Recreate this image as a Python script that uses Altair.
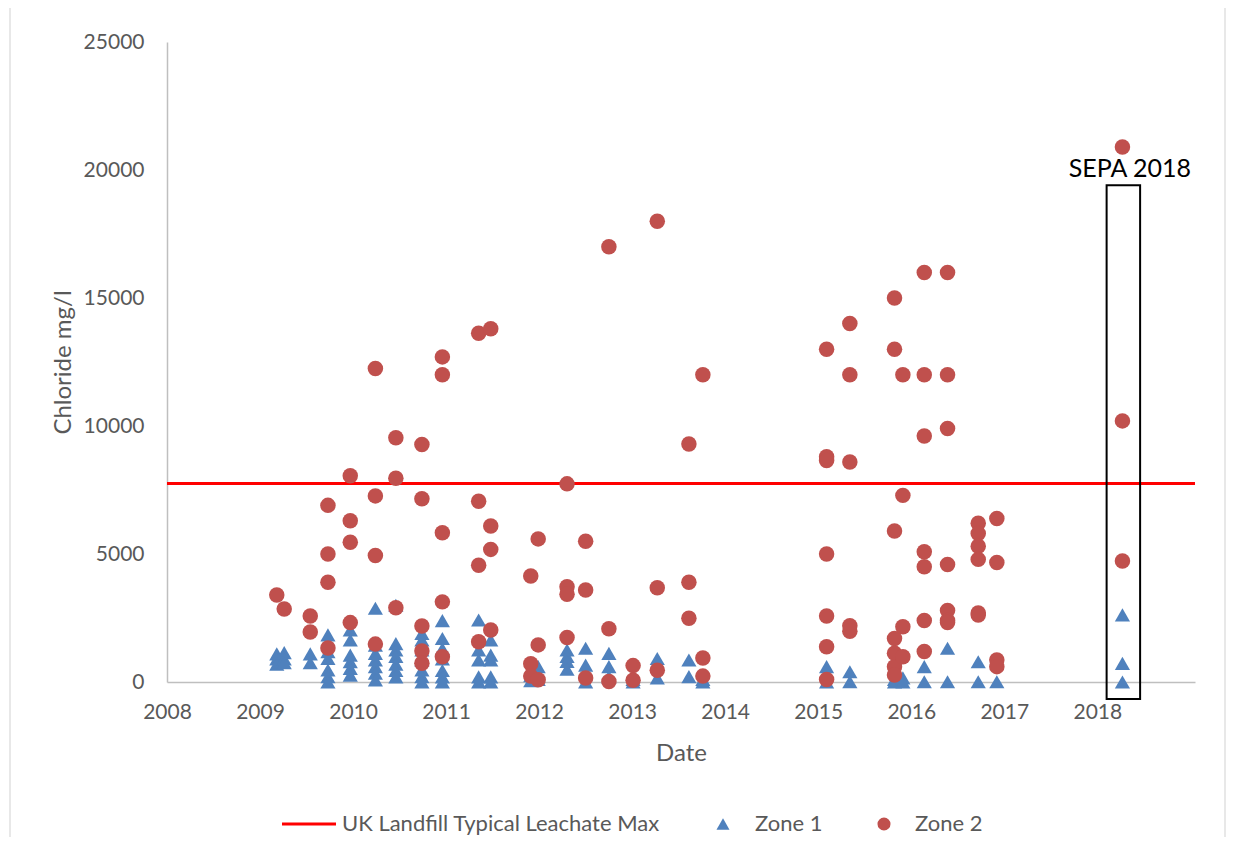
import altair as alt
import pandas as pd

# ---------------- data ----------------
series_names = ["UK Landfill Typical Leachate Max", "Zone 1", "Zone 2"]
leachate_max = [7750]

zone1_dates = (
    [2009.18] * 3 + [2009.26] * 3 + [2009.54] * 2 + [2009.73] * 6 + [2009.97] * 6 +
    [2010.24] * 7 + [2010.46] * 7 + [2010.74] * 7 + [2010.96] * 7 + [2011.35] * 5 +
    [2011.48] * 5 + [2011.91] * 2 + [2011.99] * 2 + [2012.30] * 4 + [2012.50] * 3 +
    [2012.75] * 3 + [2013.01] * 2 + [2013.27] * 2 + [2013.61] * 2 + [2013.76] * 2 +
    [2015.09] * 2 + [2015.34] * 2 + [2015.82] * 2 + [2015.91] * 2 + [2016.14] * 2 +
    [2016.39] * 2 + [2016.72] * 2 + [2016.92] * 1 + [2018.27] * 3
)
zone1_values = [
    1100, 900, 700,
    1150, 900, 750,
    1100, 750,
    1840, 1180, 920, 470, 210, 0,
    2030, 1640, 1050, 790, 530, 270,
    2880, 1440, 1120, 860, 600, 340, 80,
    3000, 1500, 1250, 1000, 700, 450, 200,
    1900, 1640, 1250, 860, 470, 210, 0,
    2400, 1700, 1300, 900, 450, 200, 0,
    2420, 1250, 860, 200, 0,
    1640, 1050, 860, 200, 0,
    250, 50,
    600, 100,
    1250, 1000, 800, 500,
    1320, 660, 0,
    1120, 600, 200,
    100, 0,
    920, 160,
    860, 210,
    100, 0,
    600, 0,
    400, 10,
    100, 0,
    160, 0,
    600, 10,
    1320, 10,
    790, 10,
    10,
    2620, 730, 0,
]

zone2_dates = (
    [2009.18] * 1 + [2009.26] * 1 + [2009.54] * 2 + [2009.73] * 4 + [2009.97] * 4 +
    [2010.24] * 4 + [2010.46] * 3 + [2010.74] * 5 + [2010.96] * 5 + [2011.35] * 4 +
    [2011.48] * 4 + [2011.91] * 3 + [2011.99] * 3 + [2012.30] * 4 + [2012.50] * 3 +
    [2012.75] * 3 + [2013.01] * 2 + [2013.27] * 3 + [2013.61] * 3 + [2013.76] * 3 +
    [2015.09] * 7 + [2015.34] * 5 + [2015.82] * 7 + [2015.91] * 4 + [2016.14] * 7 +
    [2016.39] * 7 + [2016.72] * 6 + [2016.92] * 4 + [2018.27] * 3
)
zone2_values = [
    3400,
    2850,
    2580, 1950,
    6900, 5000, 3900, 1330,
    8060, 6300, 5460, 2320,
    12250, 7270, 4940, 1480,
    9540, 7960, 2900,
    9280, 7160, 2190, 1210, 730,
    12700, 12000, 5830, 3130, 990,
    13620, 7060, 4560, 1575,
    13800, 6090, 5180, 2030,
    4140, 710, 230,
    5590, 1450, 90,
    7740, 3720, 3430, 1740,
    5500, 3590, 160,
    17000, 2080, 20,
    640, 70,
    18000, 3680, 460,
    9300, 3900, 2490,
    12000, 940, 230,
    13000, 8800, 8650, 5000, 2580, 1380, 100,
    14000, 12000, 8590, 2200, 1980,
    15000, 13000, 5900, 1700, 1120, 600, 270,
    12000, 7290, 2160, 990,
    16000, 12000, 9610, 5090, 4500, 2400, 1190,
    16000, 12000, 9900, 4590, 2790, 2400, 2320,
    6200, 5800, 5300, 4790, 2700, 2620,
    6390, 4670, 860, 600,
    20900, 10200, 4730,
]

x_ticks = list(range(2008, 2019))
y_ticks = [0, 5000, 10000, 15000, 20000, 25000]

# ---------------- styling ----------------
BLUE = "#4F81BD"
REDC = "#C0504D"
RED = "#FF0000"
GREY_TXT = "#595959"
GREY_AX = "#BFBFBF"
FONT = "Lato"

df1 = pd.DataFrame({"date": zone1_dates, "value": zone1_values, "series": series_names[1]})
df2 = pd.DataFrame({"date": zone2_dates, "value": zone2_values, "series": series_names[2]})
dfl = pd.DataFrame({"value": leachate_max, "series": series_names[0]})
one = pd.DataFrame({"k": [0]})

xscale = alt.Scale(domain=[2008, 2019.05], nice=False, zero=False)
yscale = alt.Scale(domain=[0, 25000], nice=False)

xaxis = alt.Axis(values=x_ticks, format="d", title="Date", grid=False, ticks=False, tickSize=0,
                 labelFlush=False, labelFont=FONT, labelFontSize=21, labelColor=GREY_TXT,
                 labelPadding=19, domainColor=GREY_AX, domainWidth=1.5,
                 titleFont=FONT, titleFontSize=24, titleFontWeight="normal", titleColor=GREY_TXT,
                 titlePadding=19)
yaxis = alt.Axis(values=y_ticks, format="d", title="Chloride mg/l", grid=False, ticks=False, tickSize=0,
                 labelFont=FONT, labelFontSize=21, labelColor=GREY_TXT, labelPadding=23,
                 domainColor=GREY_AX, domainWidth=1.5,
                 titleFont=FONT, titleFontSize=24, titleFontWeight="normal", titleColor=GREY_TXT,
                 titlePadding=8)

# light chart-area frame (left, top, right edges)
frame_left = alt.Chart(one).mark_rule(color="#D9D9D9", strokeWidth=1.2).encode(
    x=alt.value(-157), y=alt.value(-35), y2=alt.value(795))
frame_top = alt.Chart(one).mark_rule(color="#D9D9D9", strokeWidth=1.2).encode(
    x=alt.value(-157), x2=alt.value(1058), y=alt.value(-35))
frame_right = alt.Chart(one).mark_rule(color="#D9D9D9", strokeWidth=1.2).encode(
    x=alt.value(1058), y=alt.value(-35), y2=alt.value(795))

line = alt.Chart(dfl).mark_rule(color=RED, strokeWidth=3).encode(
    y=alt.Y("value:Q", scale=yscale, axis=yaxis))

z1 = alt.Chart(df1).mark_point(shape="triangle-up", filled=True, size=230, color=BLUE, opacity=1).encode(
    x=alt.X("date:Q", scale=xscale, axis=xaxis),
    y=alt.Y("value:Q", scale=yscale, axis=yaxis))

z2 = alt.Chart(df2).mark_point(shape="circle", filled=True, size=240, color=REDC, opacity=1).encode(
    x=alt.X("date:Q", scale=xscale, axis=xaxis),
    y=alt.Y("value:Q", scale=yscale, axis=yaxis))

box = alt.Chart(one).mark_rect(filled=False, stroke="black", strokeWidth=2).encode(
    x=alt.datum(2018.10), x2=alt.datum(2018.46), y=alt.datum(19400), y2=alt.datum(-660))

sepa = alt.Chart(one).mark_text(text="SEPA 2018", font=FONT, fontSize=25, color="black",
                                align="center", baseline="alphabetic").encode(
    x=alt.datum(2018.35), y=alt.datum(19720))

# manual legend
leg_y = 782
leg_line = alt.Chart(one).mark_rule(color=RED, strokeWidth=3).encode(
    x=alt.value(115), x2=alt.value(169), y=alt.value(leg_y))
leg_t1 = alt.Chart(one).mark_text(text=series_names[0], font=FONT, fontSize=22, color=GREY_TXT,
                                  align="left", baseline="middle").encode(x=alt.value(175), y=alt.value(leg_y))
leg_s2 = alt.Chart(one).mark_point(shape="triangle-up", filled=True, size=170, color=BLUE, opacity=1).encode(
    x=alt.value(556), y=alt.value(leg_y))
leg_t2 = alt.Chart(one).mark_text(text=series_names[1], font=FONT, fontSize=22, color=GREY_TXT,
                                  align="left", baseline="middle").encode(x=alt.value(588), y=alt.value(leg_y))
leg_s3 = alt.Chart(one).mark_point(shape="circle", filled=True, size=170, color=REDC, opacity=1).encode(
    x=alt.value(717), y=alt.value(leg_y))
leg_t3 = alt.Chart(one).mark_text(text=series_names[2], font=FONT, fontSize=22, color=GREY_TXT,
                                  align="left", baseline="middle").encode(x=alt.value(748), y=alt.value(leg_y))

chart = alt.layer(frame_left, frame_top, frame_right, line, z1, z2, box, sepa,
                  leg_line, leg_t1, leg_s2, leg_t2, leg_s3, leg_t3).properties(
    width=1028, height=640,
    autosize=alt.AutoSizeParams(type="none"),
    padding={"left": 159, "top": 34, "right": 31, "bottom": 155},
    background="white",
).configure_view(strokeWidth=0)

chart.save("out.html", embed_options={"renderer": "svg", "actions": False})
